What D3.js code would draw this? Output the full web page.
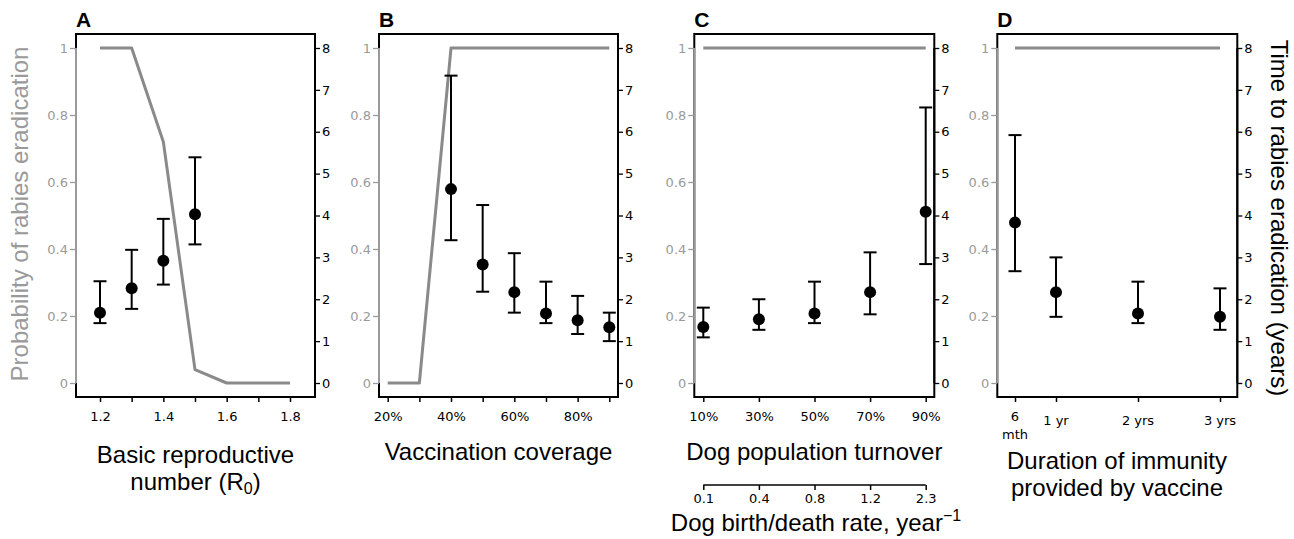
<!DOCTYPE html>
<html><head><meta charset="utf-8">
<script src="https://cdn.jsdelivr.net/npm/d3@7"></script>
<style>body{margin:0;background:#fff}svg{display:block;font-family:"Liberation Sans",Arial,sans-serif}</style>
</head><body><svg id="c" width="1294" height="539"></svg>
<script>
// ---- data ----
const r0Values = [1.2,1.3,1.4,1.5,1.6,1.7,1.8];
const r0Prob = [1,1,0.72,0.04,0,0,0];
const r0TimeX = [1.2,1.3,1.4,1.5];
const r0Time = [1.68,2.26,2.92,4.03];
const r0Lo = [1.43,1.77,2.35,3.31];
const r0Hi = [2.43,3.18,3.92,5.39];
const r0TickLabels = [1.2,1.4,1.6,1.8];

const covValues = [20,30,40,50,60,70,80,90];
const covProb = [0,0,1,1,1,1,1,1];
const covTimeX = [40,50,60,70,80,90];
const covTime = [4.63,2.83,2.17,1.66,1.50,1.33];
const covLo = [3.41,2.18,1.68,1.43,1.17,1.00];
const covHi = [7.34,4.25,3.10,2.42,2.08,1.68];
const covTickLabels = [20,40,60,80];

const turnValues = ["10%","30%","50%","70%","90%"];
const turnProb = [1,1,1,1,1];
const turnTime = [1.34,1.52,1.66,2.17,4.09];
const turnLo = [1.09,1.27,1.43,1.64,2.84];
const turnHi = [1.80,2.00,2.42,3.12,6.58];
const birthRateLabels = ["0.1","0.4","0.8","1.2","2.3"];

const immValues = [0.5,1,2,3];
const immLabels = [["6","mth"],["1 yr"],["2 yrs"],["3 yrs"]];
const immProb = [1,1,1,1];
const immTime = [3.83,2.17,1.66,1.58];
const immLo = [2.67,1.58,1.43,1.27];
const immHi = [5.92,3.00,2.42,2.26];

const probTicks = [0,0.2,0.4,0.6,0.8,1];
const timeTicks = [0,1,2,3,4,5,6,7,8];

// ---- layout ----
const svg = d3.select("#c");
const GRAY = "#8a8a8a", LGRAY = "#9a9a9a";
const boxTop = 34, boxBottom = 397;
const yP = d3.scaleLinear().domain([0,1]).range([383,48]);
const yT = d3.scaleLinear().domain([0,8]).range([383,48]);
const TF = 13, TFONT = "DejaVu Sans", TITLEF = 24;

function styleTicks(sel, color){
  sel.selectAll(".tick text").attr("fill",color).attr("font-size",TF).attr("font-family",TFONT);
}

function panel(letter, x0, x1, x, xTickVals, xLabelVals, fmt, lineX, lineY, ptX, pt, lo, hi){
  const g = svg.append("g");
  g.append("path").datum(lineX.map((d,i)=>[x(d), yP(lineY[i])]))
    .attr("d", d3.line()).attr("fill","none").attr("stroke",GRAY).attr("stroke-width",3).attr("stroke-linejoin","round");
  const eb = g.selectAll(".eb").data(ptX.map((d,i)=>({x:x(d),v:pt[i],lo:lo[i],hi:hi[i]}))).join("g");
  eb.append("line").attr("x1",d=>d.x).attr("x2",d=>d.x).attr("y1",d=>yT(d.lo)).attr("y2",d=>yT(d.hi)).attr("stroke","#000").attr("stroke-width",2);
  eb.append("line").attr("x1",d=>d.x-6.5).attr("x2",d=>d.x+6.5).attr("y1",d=>yT(d.lo)).attr("y2",d=>yT(d.lo)).attr("stroke","#000").attr("stroke-width",2);
  eb.append("line").attr("x1",d=>d.x-6.5).attr("x2",d=>d.x+6.5).attr("y1",d=>yT(d.hi)).attr("y2",d=>yT(d.hi)).attr("stroke","#000").attr("stroke-width",2);
  eb.append("circle").attr("cx",d=>d.x).attr("cy",d=>yT(d.v)).attr("r",6).attr("fill","#000");
  g.append("rect").attr("x",x0).attr("y",boxTop).attr("width",x1-x0).attr("height",boxBottom-boxTop)
    .attr("fill","none").attr("stroke","#000").attr("stroke-width",2);
  const la = g.append("g").attr("transform",`translate(${x0},0)`)
    .call(d3.axisLeft(yP).tickValues(probTicks).tickFormat(d=>d===0||d===1?d3.format("d")(d):d3.format(".1f")(d)).tickSize(6).tickPadding(2));
  la.select(".domain").attr("stroke",LGRAY).attr("stroke-width",2).attr("d",`M0,${yP(0)}V${yP(1)}`);
  la.selectAll(".tick line").attr("stroke",LGRAY).attr("stroke-width",1.3);
  styleTicks(la, LGRAY);
  const ra = g.append("g").attr("transform",`translate(${x1},0)`)
    .call(d3.axisRight(yT).tickValues(timeTicks).tickSize(5).tickPadding(2));
  ra.select(".domain").attr("stroke","#000").attr("stroke-width",2).attr("d",`M0,${yT(0)}V${yT(8)}`);
  ra.selectAll(".tick line").attr("stroke","#000").attr("stroke-width",1.3);
  styleTicks(ra, "#000");
  const ba = g.append("g").attr("transform",`translate(0,${boxBottom})`)
    .call(d3.axisBottom(x).tickValues(xTickVals).tickSize(5).tickPadding(10).tickFormat(d=>xLabelVals.includes(d)?fmt(d):""));
  ba.select(".domain").remove();
  ba.selectAll(".tick line").attr("stroke","#000").attr("stroke-width",1.5);
  styleTicks(ba, "#000");
  g.append("text").attr("x",x0).attr("y",27).text(letter).attr("font-weight","bold").attr("font-size",21);
  return g;
}

// Panel A
const xA = d3.scaleLinear().domain([1.2,1.8]).range([100,290]);
const gA = panel("A",76,315,xA,r0Values,r0TickLabels,d3.format(".1f"),r0Values,r0Prob,r0TimeX,r0Time,r0Lo,r0Hi);
const tA = gA.append("text").attr("text-anchor","middle").attr("font-size",TITLEF);
tA.append("tspan").attr("x",195.5).attr("y",463).text("Basic reproductive");
tA.append("tspan").attr("x",195.5).attr("y",490).text("number (R");
tA.append("tspan").attr("font-size",16).attr("dy",4).text("0");
tA.append("tspan").attr("dy",-4).text(")");

// Panel B
const xB = d3.scaleLinear().domain([20,90]).range([387.7,609.3]);
const gB = panel("B",379,618,xB,covValues,covTickLabels,d=>d+"%",covValues,covProb,covTimeX,covTime,covLo,covHi);
gB.append("text").attr("x",498.5).attr("y",460).attr("text-anchor","middle").attr("font-size",TITLEF).text("Vaccination coverage");

// Panel C
const xC = d3.scalePoint().domain(turnValues).range([703.3,925.7]);
const gC = panel("C",694.3,934.3,xC,turnValues,turnValues,d=>d,turnValues,turnProb,turnValues,turnTime,turnLo,turnHi);
gC.append("text").attr("x",814.3).attr("y",460).attr("text-anchor","middle").attr("font-size",TITLEF).text("Dog population turnover");
const xC2 = d3.scalePoint().domain(birthRateLabels).range([703.3,925.7]);
const ca = gC.append("g").attr("transform","translate(0,485)").call(d3.axisBottom(xC2).tickSize(5).tickPadding(4));
ca.select(".domain").attr("stroke","#000").attr("stroke-width",1.5).attr("d",`M${xC2(birthRateLabels[0])},0H${xC2(birthRateLabels[4])}`);
ca.selectAll(".tick line").attr("stroke","#000").attr("stroke-width",1.5);
styleTicks(ca, "#000");
const tC = gC.append("text").attr("x",816).attr("y",531).attr("text-anchor","middle").attr("font-size",TITLEF);
tC.append("tspan").text("Dog birth/death rate, year");
tC.append("tspan").attr("font-size",16).attr("dy",-10).text("\u22121");

// Panel D
const xD = d3.scaleLinear().domain([0.5,3]).range([1015,1220]);
const gD = panel("D",997.3,1237.3,xD,immValues,[],d=>"",immValues,immProb,immValues,immTime,immLo,immHi);
immValues.forEach((v,i)=>{
  const t = gD.append("text").attr("text-anchor","middle").attr("font-size",TF).attr("font-family",TFONT);
  immLabels[i].forEach((s,j)=>t.append("tspan").attr("x",xD(v)).attr("y",(immLabels[i].length>1?421:425)+j*18).text(s));
});
const tD = gD.append("text").attr("text-anchor","middle").attr("font-size",TITLEF);
tD.append("tspan").attr("x",1117).attr("y",469).text("Duration of immunity");
tD.append("tspan").attr("x",1117).attr("y",496).text("provided by vaccine");

// y titles
svg.append("text").attr("transform","translate(28,214) rotate(-90)").attr("text-anchor","middle")
  .attr("font-size",TITLEF).attr("fill",LGRAY).text("Probability of rabies eradication");
svg.append("text").attr("transform","translate(1271,218) rotate(90)").attr("text-anchor","middle")
  .attr("font-size",TITLEF).attr("fill","#000").text("Time to rabies eradication (years)");
</script></body></html>
